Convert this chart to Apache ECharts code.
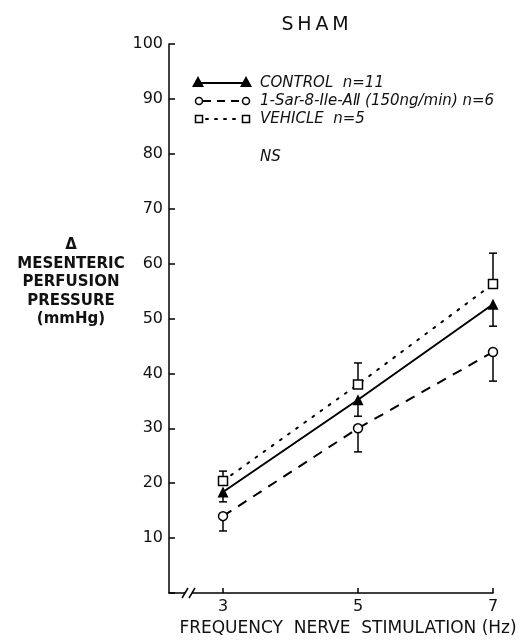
<!DOCTYPE html>
<html>
<head>
<meta charset="utf-8">
<script src="https://cdn.jsdelivr.net/npm/echarts@6/dist/echarts.min.js"></script>
<style>
  html, body { margin: 0; background: #fff; }
  #main { width: 524px; height: 642px; }
</style>
</head>
<body>
<div id="main"></div>
<script>
// frequency of nerve stimulation (Hz)
var freq = [3, 5, 7];
// mean values and the end of each error whisker
var control = [18.4, 35.2, 52.6];
var controlWhisker = [16.6, 32.2, 48.6];
var sarIle = [14.0, 30.0, 43.9];
var sarIleWhisker = [11.3, 25.7, 38.6];
var vehicle = [20.4, 38.0, 56.3];
var vehicleWhisker = [22.2, 41.9, 61.9];

var xTicks = [3, 5, 7];

var FONT = 'DejaVu Sans';
var chart = echarts.init(document.getElementById('main'));

function pts(ys) {
    return freq.map(function (f, i) { return [f, ys[i]]; });
}

// error bar: [x, whisker end, mean], cap only at whisker end
function errorBars(name, whisker, mean) {
    return {
        type: 'custom',
        name: name + '-err',
        z: 1,
        data: freq.map(function (f, i) { return [f, whisker[i], mean[i]]; }),
        encode: { x: 0, y: [1, 2] },
        renderItem: function (params, api) {
            var end = api.coord([api.value(0), api.value(1)]);
            var mid = api.coord([api.value(0), api.value(2)]);
            var st = { stroke: '#000', lineWidth: 1.5 };
            return {
                type: 'group',
                children: [
                    { type: 'line', shape: { x1: end[0], y1: end[1], x2: mid[0], y2: mid[1] }, style: st },
                    { type: 'line', shape: { x1: end[0] - 4, y1: end[1], x2: end[0] + 4, y2: end[1] }, style: st }
                ]
            };
        }
    };
}

chart.setOption({
    animation: false,
    title: [
        { text: 'S\u2009H\u2009A\u2009M', left: 310, top: 11, textAlign: 'center',
          textStyle: { fontFamily: FONT, fontSize: 19, fontWeight: 'normal', color: '#111' } },
        { text: 'Δ\nMESENTERIC\nPERFUSION\nPRESSURE\n(mmHg)', left: 66, top: 231, textAlign: 'center',
          textStyle: { fontFamily: FONT, fontSize: 15, fontWeight: 'bold', color: '#111', lineHeight: 18.5 } },
        { text: 'FREQUENCY  NERVE  STIMULATION (Hz)', left: 343, top: 615, textAlign: 'center',
          textStyle: { fontFamily: FONT, fontSize: 17, fontWeight: 'normal', color: '#111' } }
    ],
    grid: { left: 169, right: 31, top: 44, bottom: 49 },
    xAxis: {
        type: 'value', min: 2.2, max: 7,
        splitLine: { show: false },
        axisLine: { lineStyle: { color: '#000', width: 1.5 } },
        axisTick: { inside: true, length: 5, customValues: xTicks, lineStyle: { color: '#000', width: 1.5 } },
        axisLabel: { customValues: xTicks, fontFamily: FONT, fontSize: 16, color: '#111', margin: 6 }
    },
    yAxis: {
        type: 'value', min: 0, max: 100, interval: 10,
        splitLine: { show: false },
        axisLine: { show: true, lineStyle: { color: '#000', width: 1.5 } },
        axisTick: { inside: true, length: 6, lineStyle: { color: '#000', width: 1.5 } },
        axisLabel: {
            fontFamily: FONT, fontSize: 16, color: '#111', margin: 6,
            formatter: function (v) { return v === 0 ? '' : v; }
        }
    },
    series: [
        errorBars('control', controlWhisker, control),
        errorBars('sarile', sarIleWhisker, sarIle),
        errorBars('vehicle', vehicleWhisker, vehicle),
        {
            name: 'CONTROL', type: 'line', z: 3, data: pts(control),
            symbol: 'triangle', symbolSize: 11,
            itemStyle: { color: '#000' },
            lineStyle: { color: '#000', width: 2 }
        },
        {
            name: 'SarIle', type: 'line', z: 3, data: pts(sarIle),
            symbol: 'circle', symbolSize: 9,
            itemStyle: { color: '#fff', borderColor: '#000', borderWidth: 1.5 },
            lineStyle: { color: '#000', width: 2, type: [10, 8] }
        },
        {
            name: 'VEHICLE', type: 'line', z: 3, data: pts(vehicle),
            symbol: 'rect', symbolSize: 9,
            itemStyle: { color: '#fff', borderColor: '#000', borderWidth: 1.5 },
            lineStyle: { color: '#000', width: 2, type: [2, 8], cap: 'round' }
        }
    ]
});

// hand-drawn style legend, axis break
var o = chart.convertToPixel({ gridIndex: 0 }, [2.2, 0]);
var ox = o[0], oy = o[1];
var blk = { stroke: '#000', lineWidth: 1.5 };
var hollow = { fill: '#fff', stroke: '#000', lineWidth: 1.5 };
var txt = function (t, y) {
    return { type: 'text', left: 260, top: y - 7,
             style: { text: t, font: 'italic 15px ' + FONT, fill: '#111' } };
};
var tri = function (x, y) {
    return { type: 'polygon', shape: { points: [[x, y - 6], [x - 6, y + 5], [x + 6, y + 5]] }, style: { fill: '#000' } };
};

chart.setOption({
    graphic: [
        // axis break
        { type: 'rect', shape: { x: ox + 16, y: oy - 3, width: 7, height: 6 }, style: { fill: '#fff' }, z: 100 },
        { type: 'line', shape: { x1: ox + 13, y1: oy + 5, x2: ox + 19, y2: oy - 5 }, style: blk, z: 101 },
        { type: 'line', shape: { x1: ox + 20, y1: oy + 5, x2: ox + 26, y2: oy - 5 }, style: blk, z: 101 },
        // legend rows
        { type: 'line', shape: { x1: 198, y1: 83, x2: 246, y2: 83 }, style: { stroke: '#000', lineWidth: 2 } },
        tri(198, 82), tri(246, 82),
        txt('CONTROL  n=11', 83),
        { type: 'line', shape: { x1: 203, y1: 101, x2: 243, y2: 101 }, style: { stroke: '#000', lineWidth: 2, lineDash: [8, 6] } },
        { type: 'circle', shape: { cx: 199, cy: 101, r: 3.5 }, style: hollow },
        { type: 'circle', shape: { cx: 246, cy: 101, r: 3.5 }, style: hollow },
        txt('1-Sar-8-Ile-AⅡ (150ng/min) n=6', 101),
        { type: 'line', shape: { x1: 206, y1: 119, x2: 240, y2: 119 }, style: { stroke: '#000', lineWidth: 2, lineDash: [2, 7], lineCap: 'round' } },
        { type: 'rect', shape: { x: 195.5, y: 115.5, width: 7, height: 7 }, style: hollow },
        { type: 'rect', shape: { x: 242.5, y: 115.5, width: 7, height: 7 }, style: hollow },
        txt('VEHICLE  n=5', 119),
        txt('NS', 157)
    ]
});
</script>
</body>
</html>
